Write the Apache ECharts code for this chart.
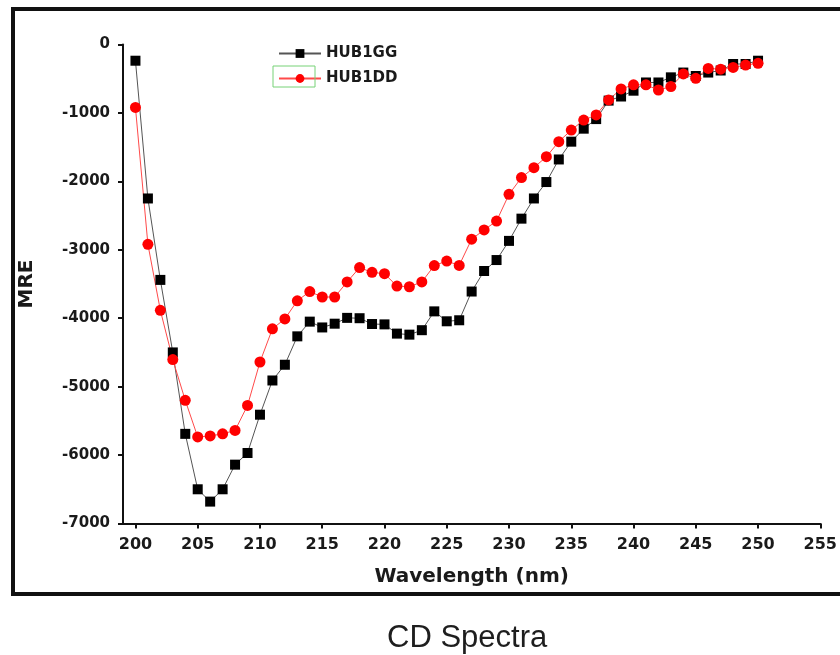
<!DOCTYPE html>
<html>
<head>
<meta charset="utf-8">
<title>CD Spectra</title>
<script src="https://cdn.jsdelivr.net/npm/echarts@6/dist/echarts.min.js"></script>
<style>
  html, body { margin: 0; padding: 0; background: #fff; }
  #chart { width: 840px; height: 655px; }
</style>
</head>
<body>
<div id="chart"></div>
<script>
// 波长 (nm)
var wavelength = [
  200, 201, 202, 203, 204, 205, 206, 207, 208, 209,
  210, 211, 212, 213, 214, 215, 216, 217, 218, 219,
  220, 221, 222, 223, 224, 225, 226, 227, 228, 229,
  230, 231, 232, 233, 234, 235, 236, 237, 238, 239,
  240, 241, 242, 243, 244, 245, 246, 247, 248, 249, 250
];
var hub1gg = [
  -237, -2250, -3440, -4500, -5690, -6500, -6680, -6500, -6140, -5970,
  -5410, -4910, -4680, -4265, -4050, -4135, -4080, -3995, -4000, -4085,
  -4090, -4225, -4240, -4175, -3900, -4045, -4030, -3610, -3310, -3150,
  -2870, -2545, -2250, -2010, -1680, -1420, -1230, -1090, -820, -760,
  -675, -555, -555, -480, -410, -460, -410, -380, -285, -285, -237
];
var hub1dd = [
  -920, -2920, -3885, -4605, -5200, -5735, -5720, -5690, -5640, -5275,
  -4640, -4155, -4010, -3745, -3610, -3690, -3690, -3470, -3260, -3330,
  -3350, -3530, -3540, -3470, -3230, -3165, -3228, -2845, -2710, -2580,
  -2190, -1945, -1800, -1640, -1420, -1250, -1105, -1030, -810, -650,
  -590, -590, -665, -615, -430, -495, -350, -360, -335, -300, -275
];
var xTicks = [200, 205, 210, 215, 220, 225, 230, 235, 240, 245, 250, 255];

function pairs(ys) {
  return wavelength.map(function (x, i) { return [x, ys[i]]; });
}

var boldFont = 'DejaVu Sans';
var myChart = echarts.init(document.getElementById('chart'));
var option = {
  animation: false,
  backgroundColor: '#fff',
  title: {
    text: 'CD Spectra',
    left: 382,
    top: 618,
    textStyle: {
      fontFamily: 'Liberation Sans',
      fontWeight: 'normal',
      fontSize: 31,
      color: '#1e1e1e'
    }
  },
  // 外框 + 图例第二项的绿色框
  graphic: [
    {
      type: 'rect',
      shape: { x: 13, y: 9, width: 860, height: 585 },
      style: { fill: 'none', stroke: '#111', lineWidth: 4 },
      silent: true
    },
    {
      type: 'rect',
      shape: { x: 273, y: 66, width: 42, height: 21 },
      style: { fill: 'none', stroke: '#77d277', lineWidth: 1 },
      silent: true,
      z: 10
    }
  ],
  legend: {
    orient: 'vertical',
    left: 273,
    top: 41,
    itemWidth: 42,
    itemHeight: 11,
    itemGap: 10,
    textStyle: {
      fontFamily: boldFont,
      fontWeight: 'bold',
      fontSize: 15,
      color: '#1a1a1a'
    },
    data: ['HUB1GG', 'HUB1DD']
  },
  grid: {
    left: 123,
    right: 17,
    top: 44.5,
    bottom: 131.5
  },
  xAxis: {
    type: 'value',
    min: 199,
    max: 255,
    name: 'Wavelength (nm)',
    nameLocation: 'middle',
    nameGap: 43,
    nameTextStyle: {
      fontFamily: boldFont,
      fontWeight: 'bold',
      fontSize: 20,
      color: '#1a1a1a'
    },
    axisLine: { show: true, onZero: false, lineStyle: { color: '#111', width: 2 } },
    axisTick: { show: true, length: 5, lineStyle: { color: '#111', width: 2 }, customValues: xTicks },
    axisLabel: {
      customValues: xTicks,
      margin: 13,
      fontFamily: boldFont,
      fontWeight: 'bold',
      fontSize: 16,
      color: '#1a1a1a'
    },
    splitLine: { show: false }
  },
  yAxis: {
    type: 'value',
    min: -7000,
    max: 0,
    interval: 1000,
    name: 'MRE',
    nameLocation: 'middle',
    nameGap: 86,
    nameTextStyle: {
      fontFamily: boldFont,
      fontWeight: 'bold',
      fontSize: 20,
      color: '#1a1a1a'
    },
    axisLine: { show: true, lineStyle: { color: '#111', width: 2 } },
    axisTick: { show: true, length: 5, lineStyle: { color: '#111', width: 2 } },
    axisLabel: {
      margin: 13,
      formatter: function (v) { return String(v); },
      fontFamily: boldFont,
      fontWeight: 'bold',
      fontSize: 15,
      color: '#1a1a1a'
    },
    splitLine: { show: false }
  },
  series: [
    {
      name: 'HUB1GG',
      type: 'line',
      data: pairs(hub1gg),
      symbol: 'rect',
      symbolSize: 10,
      itemStyle: { color: '#000' },
      lineStyle: { color: '#555', width: 1 }
    },
    {
      name: 'HUB1DD',
      type: 'line',
      data: pairs(hub1dd),
      symbol: 'circle',
      symbolSize: 11,
      itemStyle: { color: '#ff0000' },
      lineStyle: { color: '#ff4a4a', width: 1 }
    }
  ]
};

myChart.setOption(option, (window.onresize = myChart.resize));
</script>
</body>
</html>
